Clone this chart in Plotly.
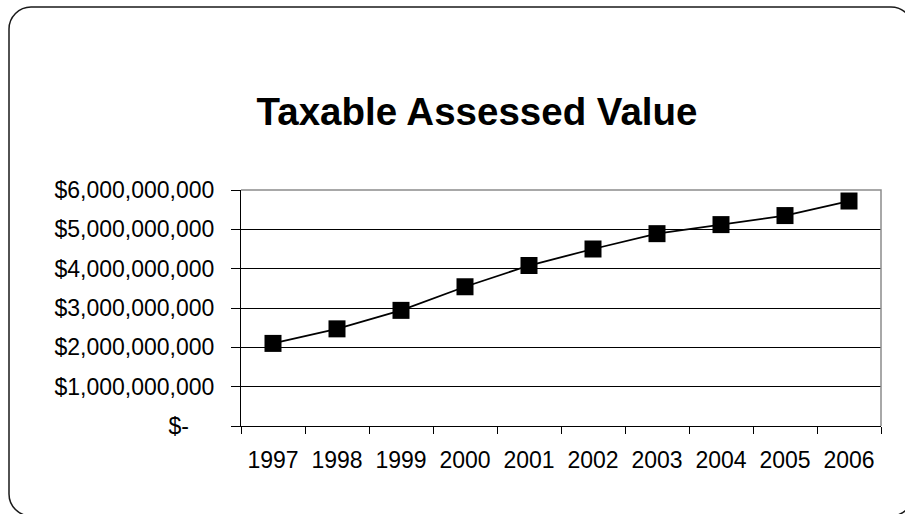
import plotly.graph_objects as go

# Taxable assessed value by fiscal year
years = ["1997", "1998", "1999", "2000", "2001", "2002", "2003", "2004", "2005", "2006"]
assessed_value = [2.10e9, 2.47e9, 2.94e9, 3.54e9, 4.08e9, 4.50e9, 4.89e9, 5.12e9, 5.35e9, 5.72e9]

y_tick_values = [0, 1e9, 2e9, 3e9, 4e9, 5e9, 6e9]
y_tick_labels = ["$-\u00a0\u00a0\u00a0\u00a0", "$1,000,000,000", "$2,000,000,000", "$3,000,000,000",
                 "$4,000,000,000", "$5,000,000,000", "$6,000,000,000"]

W, H = 905, 514
ML, MR, MT, MB = 241, 24, 190, 88
PW, PH = W - ML - MR, H - MT - MB
FONT = "Liberation Sans, Arial, sans-serif"


def px_to_paper(x, y):
    return (x - ML) / PW, (H - MB - y) / PH


def rounded_frame(x0, y0, x1, y1, r):
    # rounded rectangle in pixel units, converted to paper coordinates
    k = 0.45
    pts = [
        ("M", [(x0 + r, y0)]),
        ("L", [(x1 - r, y0)]),
        ("C", [(x1 - r * k, y0), (x1, y0 + r * k), (x1, y0 + r)]),
        ("L", [(x1, y1 - r)]),
        ("C", [(x1, y1 - r * k), (x1 - r * k, y1), (x1 - r, y1)]),
        ("L", [(x0 + r, y1)]),
        ("C", [(x0 + r * k, y1), (x0, y1 - r * k), (x0, y1 - r)]),
        ("L", [(x0, y0 + r)]),
        ("C", [(x0, y0 + r * k), (x0 + r * k, y0), (x0 + r, y0)]),
    ]
    parts = []
    for cmd, coords in pts:
        cs = []
        for (x, y) in coords:
            px, py = px_to_paper(x, y)
            cs.append(f"{px:.5f},{py:.5f}")
        parts.append(cmd + " " + " ".join(cs))
    return " ".join(parts) + " Z"


fig = go.Figure()
fig.add_trace(go.Scatter(
    x=years, y=assessed_value, mode="lines+markers",
    line=dict(color="black", width=1.8),
    marker=dict(symbol="square", size=17, color="black", line=dict(width=0)),
    showlegend=False, hoverinfo="skip",
))

fig.update_layout(
    width=W, height=H,
    margin=dict(l=ML, r=MR, t=MT, b=MB, pad=0),
    paper_bgcolor="white", plot_bgcolor="white",
    font=dict(family=FONT, size=23, color="black"),
    title=dict(text="<b>Taxable Assessed Value</b>", x=477 / W, xanchor="center",
               y=1 - 112 / H, yanchor="middle", yref="container",
               font=dict(family=FONT, size=38.5, color="black")),
    xaxis=dict(type="category", showgrid=False, showline=True, linecolor="black", linewidth=1,
               ticks="outside", ticklen=7, tickcolor="black", tickwidth=1,
               tickson="boundaries", range=[-0.5, 9.5], zeroline=False,
               ticklabelstandoff=13,
               tickfont=dict(family=FONT, size=23, color="black")),
    yaxis=dict(range=[0, 6e9], tickvals=y_tick_values, ticktext=y_tick_labels,
               showgrid=True, gridcolor="black", gridwidth=1,
               showline=True, linecolor="black", linewidth=1,
               ticks="outside", ticklen=9, tickcolor="black", tickwidth=1,
               ticklabelstandoff=12, zeroline=False,
               tickfont=dict(family=FONT, size=23, color="black")),
    shapes=[
        # grey plot-area border on top and right
        dict(type="path", xref="paper", yref="paper",
             path="M 0,1 L 1,1 L 1,0", line=dict(color="#8c8c8c", width=1.5), layer="above"),
        dict(type="path", xref="paper", yref="paper",
             path=rounded_frame(9, 7, 913, 516, 22), line=dict(color="#1a1a1a", width=1.5),
             layer="below"),
    ],
)

fig.write_html("out.html")
